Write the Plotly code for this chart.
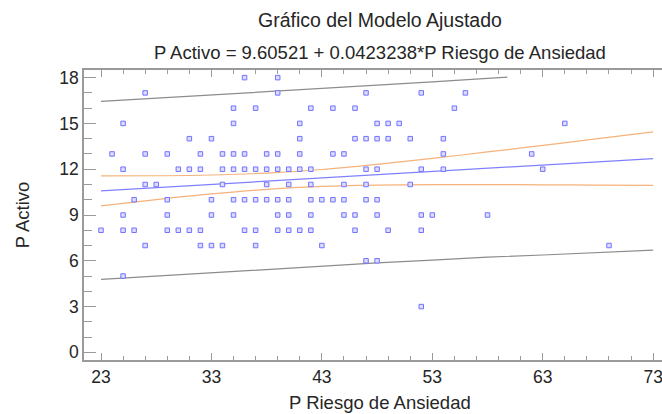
import plotly.graph_objects as go

# Observed data (P Riesgo de Ansiedad, P Activo)
x_vals = [23, 24, 25, 25, 25, 25, 25, 26, 26, 27, 27, 27, 27, 28,
          29, 29, 29, 29, 30, 30, 31, 31, 31, 32, 32, 32, 32,
          33, 33, 33, 33, 34, 34, 34, 34, 35, 35, 35, 35, 35, 35,
          36, 36, 36, 36, 36, 37, 37, 37, 37, 37, 38, 38, 38, 38,
          39, 39, 39, 39, 39, 39, 39, 40, 40, 40, 40, 40,
          41, 41, 41, 41, 41, 42, 42, 42, 42, 42, 42, 43, 43,
          44, 44, 44, 45, 45, 45, 45, 46, 46, 46, 46,
          47, 47, 47, 47, 47, 47, 48, 48, 48, 48, 48, 48,
          49, 49, 49, 50, 51, 51, 52, 52, 52, 52, 52, 53,
          54, 54, 54, 55, 56, 58, 62, 63, 65, 69]
y_vals = [8, 13, 15, 12, 9, 8, 5, 10, 8, 17, 13, 11, 7, 11,
          13, 10, 9, 8, 12, 8, 14, 12, 8, 13, 12, 8, 7,
          14, 10, 9, 7, 13, 12, 11, 7, 16, 15, 13, 12, 10, 9,
          18, 13, 12, 10, 8, 16, 12, 10, 8, 7, 13, 12, 11, 10,
          18, 17, 13, 12, 10, 9, 8, 12, 11, 10, 9, 8,
          15, 14, 13, 12, 8, 16, 12, 11, 10, 9, 8, 10, 7,
          16, 13, 10, 13, 11, 10, 9, 16, 14, 9, 8,
          17, 14, 12, 11, 10, 6, 15, 14, 12, 10, 9, 6,
          15, 14, 8, 15, 14, 11, 17, 12, 9, 8, 3, 9,
          14, 13, 12, 16, 17, 9, 13, 12, 15, 7]

# Fitted line: P Activo = 9.60521 + 0.0423238*P Riesgo de Ansiedad
intercept = 9.60521
slope = 0.0423238
fit_x = [23, 73]
fit_y = [intercept + slope * v for v in fit_x]

# Confidence limits
conf_x = [23, 28, 33, 38, 43, 48, 53, 58, 63, 68, 73]
conf_upper = [11.56, 11.57, 11.62, 11.75, 11.98, 12.32, 12.71, 13.13, 13.56, 14.00, 14.45]
conf_lower = [9.60, 10.01, 10.38, 10.68, 10.87, 10.96, 10.99, 10.99, 10.98, 10.96, 10.94]

# Prediction limits
pred_up_x = [23, 28, 33, 38, 43, 48, 53, 58, 59.8]
pred_upper = [16.44, 16.65, 16.85, 17.07, 17.28, 17.50, 17.72, 17.95, 18.03]
pred_lo_x = [23, 28, 33, 38, 43, 48, 53, 58, 63, 68, 73]
pred_lower = [4.78, 5.00, 5.20, 5.42, 5.62, 5.86, 6.05, 6.24, 6.38, 6.54, 6.70]

x_ticks = [23, 33, 43, 53, 63, 73]
y_ticks = [0, 3, 6, 9, 12, 15, 18]

GRAY = "#8c8c8c"
FRAME = "#9a9a9a"
ORANGE = "#f5b27a"
BLUE = "#8080ff"
TEXT = "#262626"
FONT = "Liberation Sans, Arial, sans-serif"

fig = go.Figure()
fig.add_trace(go.Scatter(x=pred_up_x, y=pred_upper, mode="lines",
                         line=dict(color=GRAY, width=1.2), hoverinfo="skip"))
fig.add_trace(go.Scatter(x=pred_lo_x, y=pred_lower, mode="lines",
                         line=dict(color=GRAY, width=1.2), hoverinfo="skip"))
fig.add_trace(go.Scatter(x=conf_x, y=conf_upper, mode="lines",
                         line=dict(color=ORANGE, width=1.2, shape="spline"), hoverinfo="skip"))
fig.add_trace(go.Scatter(x=conf_x, y=conf_lower, mode="lines",
                         line=dict(color=ORANGE, width=1.2, shape="spline"), hoverinfo="skip"))
fig.add_trace(go.Scatter(x=fit_x, y=fit_y, mode="lines",
                         line=dict(color=BLUE, width=1.2)))
fig.add_trace(go.Scatter(x=x_vals, y=y_vals, mode="markers",
                         marker=dict(symbol="square", size=4.5, color="#dcdcff",
                                     line=dict(color="#7373ff", width=1))))

fig.update_layout(
    width=662, height=414,
    margin=dict(l=84, r=0, t=70, b=54),
    paper_bgcolor="white", plot_bgcolor="white",
    showlegend=False,
    font=dict(family=FONT, color=TEXT, size=17),
)
fig.update_xaxes(
    range=[21.46, 73.8], tickvals=x_ticks, ticks="inside", ticklen=7,
    tickcolor=FRAME, showline=True, linecolor=FRAME, linewidth=1.5,
    mirror="ticks", showgrid=False, zeroline=False,
    ticklabeloverflow="allow",
    tickfont=dict(size=17.5, family=FONT, color=TEXT),
    minor=dict(tick0=23, dtick=2, ticks="inside", ticklen=4, tickcolor=FRAME),
)
fig.update_yaxes(
    range=[-0.5, 18.5], tickvals=y_ticks, ticks="inside", ticklen=12,
    tickcolor=FRAME, showline=True, linecolor=FRAME, linewidth=1.5,
    mirror=False, showgrid=False, zeroline=False,
    tickfont=dict(size=17.5, family=FONT, color=TEXT),
    minor=dict(tick0=0, dtick=1, ticks="inside", ticklen=8, tickcolor=FRAME),
)

fig.add_annotation(text="Gráfico del Modelo Ajustado", xref="paper", yref="paper",
                   x=0.512, y=1.172, xanchor="center", yanchor="middle",
                   showarrow=False, font=dict(size=19.5, family=FONT, color=TEXT))
fig.add_annotation(text="P Activo = 9.60521 + 0.0423238*P Riesgo de Ansiedad",
                   xref="paper", yref="paper", x=0.512, y=1.062,
                   xanchor="center", yanchor="middle", showarrow=False,
                   font=dict(size=18.5, family=FONT, color=TEXT))
fig.add_annotation(text="P Riesgo de Ansiedad", xref="paper", yref="paper",
                   x=0.512, y=-0.145, xanchor="center", yanchor="middle",
                   showarrow=False, font=dict(size=18.5, family=FONT, color=TEXT))
fig.add_annotation(text="P Activo", xref="paper", yref="paper",
                   x=-0.107, y=0.5, xanchor="center", yanchor="middle",
                   textangle=-90, showarrow=False,
                   font=dict(size=18.5, family=FONT, color=TEXT))

fig.write_html("out.html")
